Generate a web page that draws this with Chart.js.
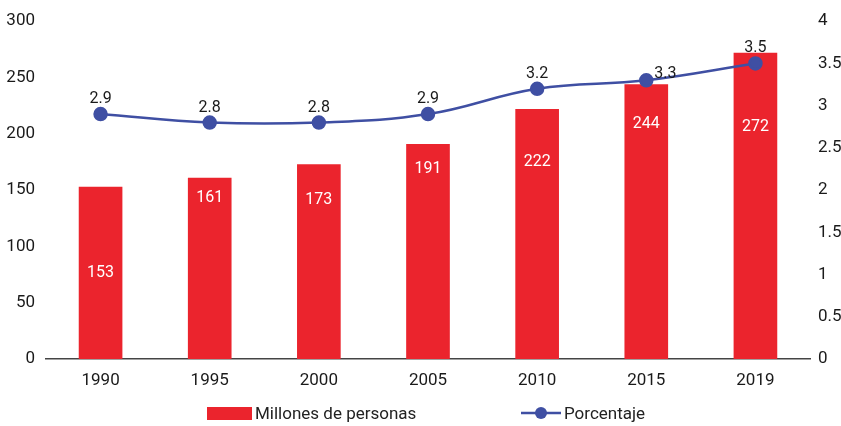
<!DOCTYPE html>
<html>
<head>
<meta charset="utf-8">
<script src="https://cdn.jsdelivr.net/npm/chart.js@4"></script>
<style>
html,body{margin:0;padding:0;background:#fff;}
#wrap{position:relative;width:841px;height:426px;}
#legend{position:absolute;left:0;top:402px;width:841px;height:22px;font-family:Roboto,"Liberation Sans",sans-serif;font-size:17px;color:#222;}
.li{position:absolute;top:0;display:flex;align-items:center;height:22px;}
</style>
</head>
<body>
<div id="wrap">
<canvas id="c" width="841" height="426"></canvas>
<div id="legend">
  <div class="li" style="left:207px;"><span style="display:inline-block;width:45px;height:13px;background:#EB242D;margin-right:3px;"></span>Millones de personas</div>
  <div class="li" style="left:521px;"><svg width="40" height="14" style="margin-right:3px"><line x1="0" y1="7" x2="40" y2="7" stroke="#3F4FA3" stroke-width="2.5"/><circle cx="20" cy="7" r="6" fill="#3F4FA3"/></svg>Porcentaje</div>
</div>
</div>
<script>
const categories = ["1990","1995","2000","2005","2010","2015","2019"];
const millones = [153,161,173,191,222,244,272];
const porcentaje = [2.9,2.8,2.8,2.9,3.2,3.3,3.5];
const leftTicks = [0,50,100,150,200,250,300];
const rightTicks = [0,0.5,1,1.5,2,2.5,3,3.5,4];
// value-space height at which each bar's label sits (as in the original)
const barLabelAt = [76,143,141,169,175,209,206];

const FONT = 'Roboto,"Liberation Sans",sans-serif';
const RED = '#EB242D';
const BLUE = '#3F4FA3';

const labelPlugin = {
  id: 'labels',
  afterDatasetsDraw(chart){
    const ctx = chart.ctx;
    const x = chart.scales.x, yL = chart.scales.y, yR = chart.scales.y1;
    ctx.save();
    ctx.font = '16px ' + FONT;
    ctx.textAlign = 'center';
    ctx.textBaseline = 'middle';
    ctx.fillStyle = '#fff';
    millones.forEach((v,i)=>{
      ctx.fillText(String(v), x.getPixelForValue(i), yL.getPixelForValue(barLabelAt[i]));
    });
    ctx.fillStyle = '#1a1a1a';
    porcentaje.forEach((v,i)=>{
      let px = x.getPixelForValue(i), py = yR.getPixelForValue(v) - 15;
      if (i === 5) { px += 19; py += 9; }
      ctx.fillText(v.toFixed(1), px, py);
    });
    ctx.restore();
  }
};

new Chart(document.getElementById('c'), {
  data: {
    labels: categories,
    datasets: [
      {
        type: 'line',
        label: 'Porcentaje',
        data: porcentaje,
        yAxisID: 'y1',
        borderColor: BLUE,
        backgroundColor: BLUE,
        borderWidth: 2.5,
        pointRadius: 6,
        pointHoverRadius: 6,
        tension: 0.4,
        order: 0
      },
      {
        type: 'bar',
        label: 'Millones de personas',
        data: millones,
        yAxisID: 'y',
        backgroundColor: RED,
        barPercentage: 0.4,
        categoryPercentage: 1.0,
        order: 1
      }
    ]
  },
  options: {
    responsive: false,
    animation: false,
    layout: { padding: { top: 17, right: 0, left: 0, bottom: 0 } },
    plugins: { legend: { display: false }, tooltip: { enabled: false } },
    scales: {
      x: {
        grid: { display: false, drawTicks: false },
        border: { display: true, color: '#444', width: 1.5 },
        ticks: { color: '#1a1a1a', font: { family: FONT, size: 17 }, padding: 12 },
        afterFit(s){ s.height = 67; }
      },
      y: {
        position: 'left',
        min: 0, max: 300,
        afterBuildTicks(s){ s.ticks = leftTicks.map(v=>({value:v})); },
        grid: { display: false, drawTicks: false },
        border: { display: false },
        ticks: { color: '#1a1a1a', font: { family: FONT, size: 17 }, padding: 11 },
        afterFit(s){ s.width = 46; }
      },
      y1: {
        position: 'right',
        min: 0, max: 4,
        afterBuildTicks(s){ s.ticks = rightTicks.map(v=>({value:v})); },
        grid: { display: false, drawTicks: false },
        border: { display: false },
        ticks: { color: '#1a1a1a', font: { family: FONT, size: 17 }, padding: 8, callback: v => String(v) },
        afterFit(s){ s.width = 31; }
      }
    }
  },
  plugins: [labelPlugin]
});
</script>
</body>
</html>
